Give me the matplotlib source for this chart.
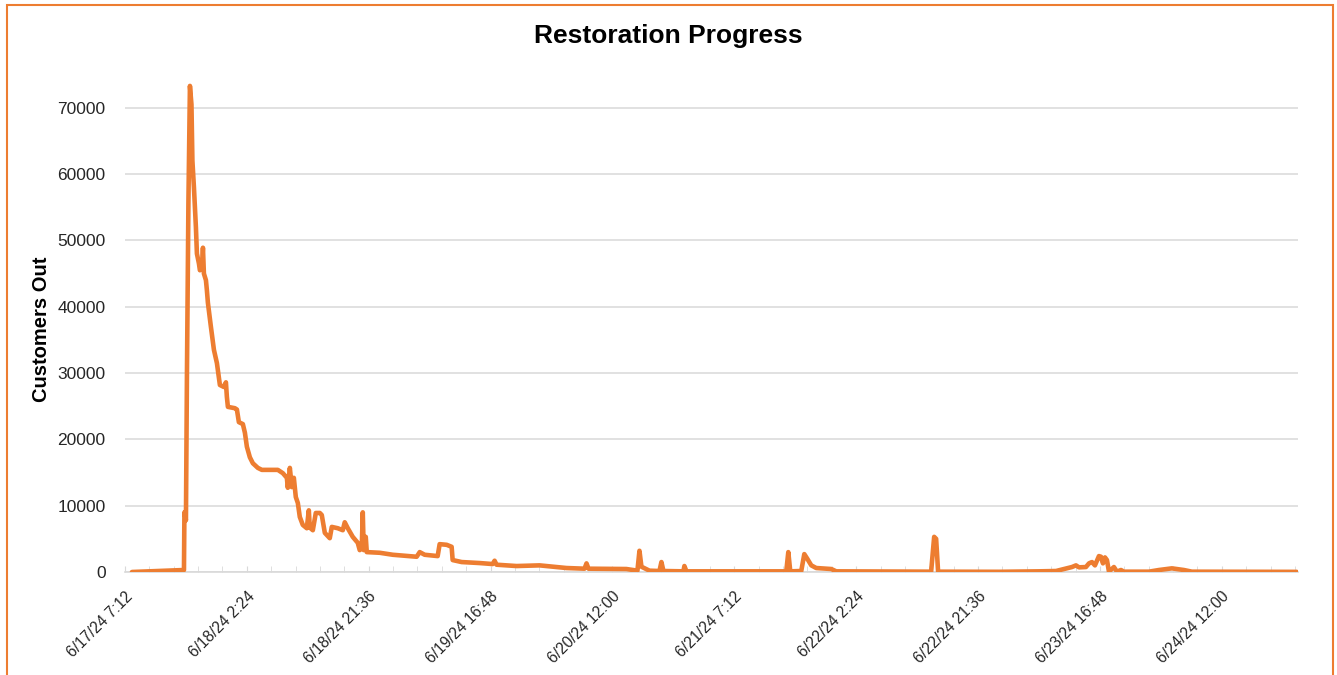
import matplotlib
matplotlib.use("Agg")
import matplotlib.pyplot as plt
import matplotlib.dates as mdates
from matplotlib.patches import Rectangle
from matplotlib.ticker import FixedLocator, FuncFormatter
from datetime import datetime, timedelta

# ---- data ----
start_time = datetime(2024, 6, 17, 7, 12)
end_time = datetime(2024, 6, 25, 0, 0)
# hours elapsed since 6/17/24 7:12
hours = [1.10, 9.29, 9.36, 9.60, 9.76, 9.99, 10.23, 10.47, 10.62, 10.86, 11.17, 11.33,
         11.65, 11.80, 12.12, 12.28, 12.43, 12.75, 12.90, 13.06, 13.53, 14.01, 14.48,
         14.95, 15.58, 15.90, 16.05, 16.21, 17.31, 17.63, 17.94, 18.57, 18.89, 19.20,
         19.67, 20.14, 20.93, 21.56, 24.08, 24.87, 25.50, 25.65, 25.97, 26.28, 26.60,
         26.91, 27.23, 27.54, 28.01, 28.64, 28.96, 29.11, 29.59, 30.06, 30.69, 31.00,
         31.48, 32.26, 32.58, 33.52, 34.31, 34.62, 35.10, 35.88, 36.67, 36.98, 37.30,
         37.46, 37.61, 37.93, 38.09, 40.13, 42.18, 45.95, 46.43, 47.21, 49.26, 49.57,
         50.68, 51.46, 51.62, 53.04, 55.87, 57.91, 58.23, 58.54, 61.69, 65.31, 69.56,
         72.39, 72.71, 73.02, 79.00, 80.73, 81.05, 81.36, 82.62, 84.20, 84.51, 84.83,
         87.97, 88.13, 88.45, 104.18, 104.50, 104.81, 106.54, 107.02, 107.49, 108.12,
         108.90, 111.27, 112.05, 127.00, 127.48, 127.79, 128.10, 137.70, 144.00, 146.68,
         149.19, 149.82, 150.30, 151.39, 151.87, 152.34, 152.81, 153.44, 153.76, 154.07,
         154.39, 154.70, 155.02, 155.80, 156.27, 156.91, 157.38, 161.31, 162.89, 164.93,
         166.82, 168.08, 184.60]
customers_out = [0, 300, 9000, 7800, 30000, 55600, 73300, 70500, 62000, 58000, 52000, 48000,
                 46500, 45500, 46000, 48900, 45000, 44000, 42500, 40600, 37000, 33500, 31500,
                 28200, 27900, 28600, 26400, 24900, 24700, 24500, 22600, 22300, 21000, 18900,
                 17300, 16400, 15700, 15400, 15400, 14900, 14200, 12700, 15700, 12800, 14200,
                 11300, 10400, 8300, 7100, 6600, 9300, 6700, 6300, 8900, 8900, 8600,
                 5900, 5100, 6800, 6600, 6300, 7500, 6600, 5300, 4400, 3300, 3600,
                 9000, 3300, 5300, 3000, 2900, 2600, 2300, 3000, 2600, 2400, 4200,
                 4100, 3800, 1800, 1500, 1350, 1200, 1700, 1100, 900, 1000, 600,
                 500, 1300, 500, 450, 200, 3200, 800, 200, 150, 1500, 150,
                 100, 900, 100, 100, 3000, 100, 150, 2700, 2000, 1000,
                 600, 450, 100, 50, 5300, 5000, 50, 30, 100, 150,
                 750, 1000, 700, 750, 1300, 1500, 1000, 2400, 2300, 1300,
                 2200, 1800, 50, 750, 50, 300, 50, 50, 300, 550,
                 300, 50, 20]
tick_step_hours = 19.2
n_ticks = 10
y_ticks = [0, 10000, 20000, 30000, 40000, 50000, 60000, 70000]

# ---- style ----
orange = "#ED7D31"
grid_col = "#D9D9D9"
plt.rcParams["font.family"] = ["Liberation Sans", "DejaVu Sans"]

times = [start_time + timedelta(hours=h) for h in hours]

fig = plt.figure(figsize=(13.37, 6.75), dpi=100)
ax = fig.add_axes([125 / 1337, 1 - 572 / 675, (1298 - 125) / 1337, (572 - 68) / 675])

ax.plot(times, customers_out, color=orange, lw=3.3, solid_joinstyle="round",
        solid_capstyle="round", zorder=3)

ax.set_xlim(mdates.date2num(start_time), mdates.date2num(end_time))
ax.set_ylim(0, 76000)

major = [mdates.date2num(start_time + timedelta(hours=tick_step_hours * i)) for i in range(n_ticks)]
minor = [mdates.date2num(start_time + timedelta(hours=tick_step_hours / 5 * i))
         for i in range(0, 49)]
ax.xaxis.set_major_locator(FixedLocator(major))
ax.xaxis.set_minor_locator(FixedLocator(minor))


def fmt(x, pos=None):
    d = mdates.num2date(x)
    return f"{d.month}/{d.day}/{d.strftime('%y')} {d.hour}:{d.minute:02d}"


ax.xaxis.set_major_formatter(FuncFormatter(fmt))
ax.set_yticks(y_ticks)
ax.set_yticklabels([str(v) for v in y_ticks])

for lbl in ax.get_xticklabels():
    lbl.set_rotation(45)
    lbl.set_ha("right")
    lbl.set_va("top")
    lbl.set_rotation_mode("anchor")

ax.tick_params(axis="x", which="both", direction="in", length=4, color=grid_col,
               labelsize=11.2, pad=12, labelcolor="#262626")
ax.tick_params(axis="y", length=0, labelsize=12.5, pad=14, labelcolor="#262626")

ax.grid(axis="y", color=grid_col, lw=1.1)
ax.set_axisbelow(True)
for s in ["top", "right", "left"]:
    ax.spines[s].set_visible(False)
ax.spines["bottom"].set_color(grid_col)
ax.spines["bottom"].set_linewidth(1.2)

ax.set_ylabel("Customers Out", fontsize=14.5, fontweight="bold")
ax.yaxis.set_label_coords(-0.063, 0.482)

fig.text(0.5, 1 - 36 / 675, "Restoration Progress", ha="center", va="center",
         fontsize=19, fontweight="bold",
         family=["Liberation Sans Narrow", "Liberation Sans", "DejaVu Sans"])

fig.patches.append(Rectangle((7 / 1337, -0.02), (1333 - 7) / 1337, 1.02 - 5 / 675 + 0.0,
                             transform=fig.transFigure, fill=False, edgecolor=orange,
                             lw=1.5, zorder=10))

fig.savefig("out.png", dpi=100)
